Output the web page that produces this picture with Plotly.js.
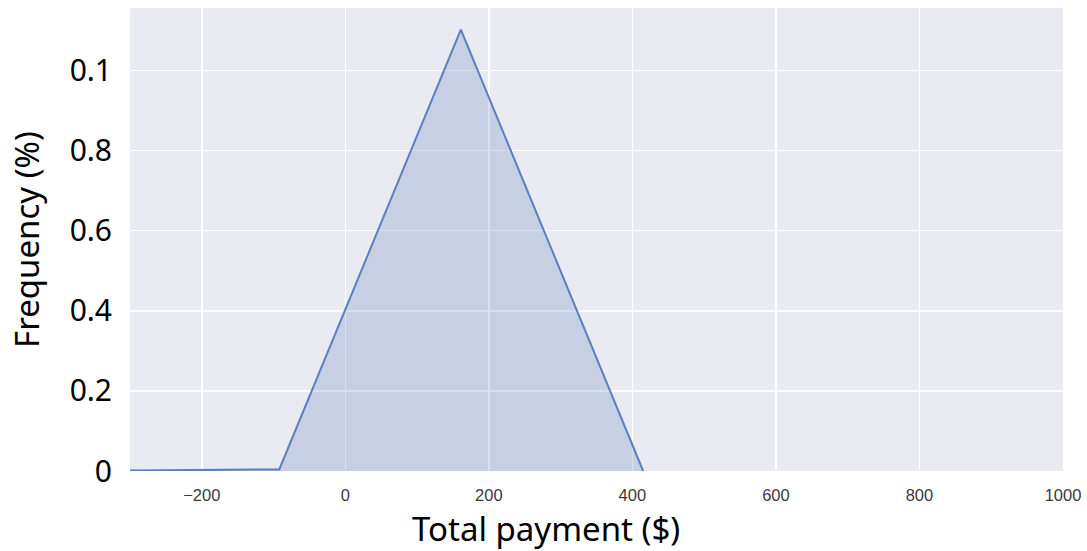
<!DOCTYPE html>
<html>
<head>
<meta charset="utf-8">
<script src="https://cdn.plot.ly/plotly-3.0.1.min.js"></script>
<style>html,body{margin:0;padding:0;background:#fff;}#chart{width:1087px;height:551px;}</style>
</head>
<body>
<div id="chart"></div>
<script>
const payment = [-300, -92, 161, 415];
const frequency = [0.001, 0.004, 1.102, 0];
const yTickVals = [0, 0.2, 0.4, 0.6, 0.8, 1.0];
const yTickText = ["0", "0.2", "0.4", "0.6", "0.8", "0.1"];
const xTickVals = [-200, 0, 200, 400, 600, 800, 1000];
const xTickText = ["\u2212200", "0", "200", "400", "600", "800", "1000"];
const xTitle = 'Total payment ($)';
const yTitle = 'Frequency (%)';

const trace = {
  x: payment,
  y: frequency,
  type: 'scatter',
  mode: 'lines',
  fill: 'tozeroy',
  fillcolor: 'rgba(76,114,176,0.22)',
  line: {color: '#5b7fc0', width: 2},
  hoverinfo: 'x+y'
};

const layout = {
  width: 1087,
  height: 551,
  margin: {l: 130, r: 24, t: 8, b: 80},
  paper_bgcolor: '#ffffff',
  plot_bgcolor: '#eaeaf2',
  showlegend: false,
  font: {family: 'Noto Sans, sans-serif', color: '#000'},
  xaxis: {
    range: [-300, 1000],
    tickvals: xTickVals,
    ticktext: xTickText,
    tickfont: {size: 16.5, color: '#3a3a3a', family: 'Liberation Sans, Arial, sans-serif'},
    gridcolor: '#ffffff',
    gridwidth: 1.5,
    zeroline: false,
    showline: false,
    ticks: '',
    ticklabelstandoff: 12,
    automargin: false
  },
  yaxis: {
    range: [0, 1.156],
    tickvals: yTickVals,
    ticktext: yTickText,
    tickfont: {size: 30, color: '#000', family: 'Noto Sans, sans-serif'},
    gridcolor: '#ffffff',
    gridwidth: 1.5,
    zeroline: false,
    showline: false,
    ticks: '',
    ticklabelstandoff: 17,
    title: {text: yTitle, font: {size: 33, family: 'Noto Sans, sans-serif', color: '#000'}, standoff: 20},
    automargin: false
  },
  annotations: [{
    text: xTitle,
    xref: 'paper', yref: 'paper',
    x: 0.4464, y: -0.1236,
    xanchor: 'center', yanchor: 'middle',
    borderpad: 0,
    showarrow: false,
    font: {size: 33, family: 'Noto Sans, sans-serif', color: '#000'}
  }]
};

Plotly.newPlot('chart', [trace], layout, {displayModeBar: false, staticPlot: true});
</script>
</body>
</html>
